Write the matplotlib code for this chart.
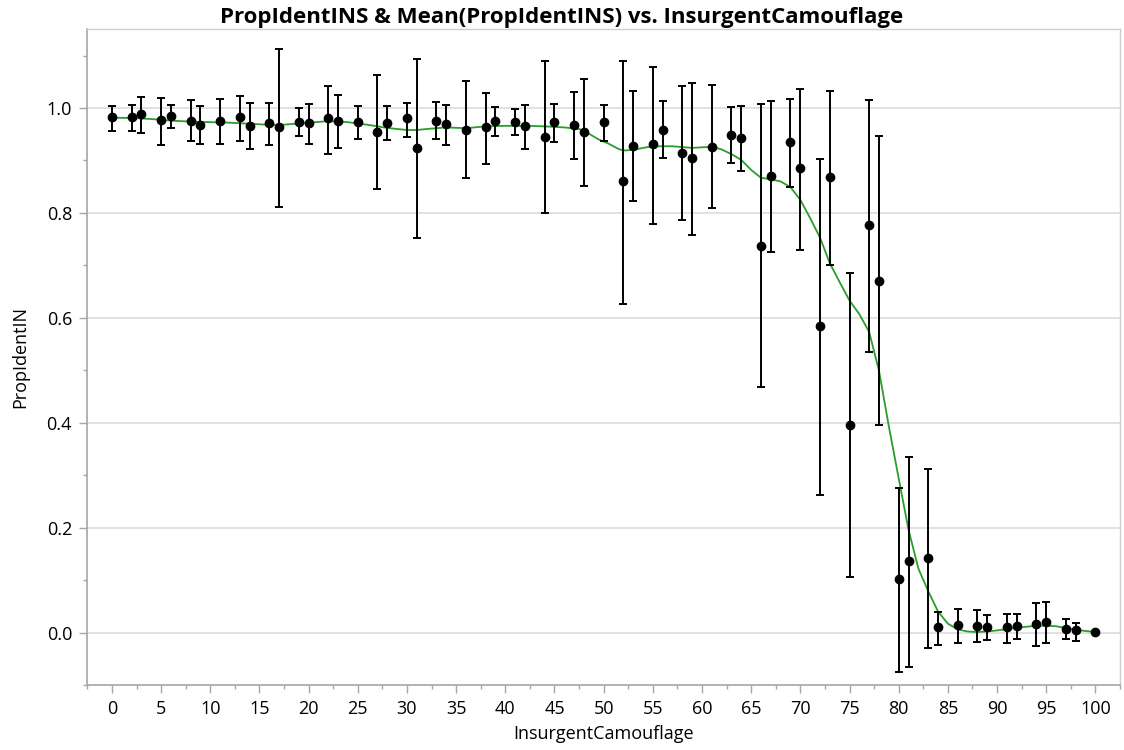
import numpy as np
import matplotlib.pyplot as plt
from matplotlib.ticker import MultipleLocator

plt.rcParams['font.family'] = ['Open Sans', 'DejaVu Sans']

# Insurgent camouflage levels with their mean PropIdentIN and interval ends
camo = [0, 2, 3, 5, 6, 8, 9, 11, 13, 14, 16, 17, 19, 20, 22, 23, 25, 27, 28, 30,
        31, 33, 34, 36, 38, 39, 41, 42, 44, 45, 47, 48, 50, 52, 53, 55, 56, 58, 59, 61,
        63, 64, 66, 67, 69, 70, 72, 73, 75, 77, 78, 80, 81, 83, 84, 86, 88, 89, 91, 92,
        94, 95, 97, 98, 100]
prop_mean = [0.982, 0.982, 0.988, 0.977, 0.985, 0.976, 0.968, 0.976, 0.982, 0.966,
             0.971, 0.963, 0.974, 0.971, 0.980, 0.976, 0.974, 0.955, 0.971, 0.980,
             0.924, 0.976, 0.970, 0.959, 0.963, 0.976, 0.973, 0.965, 0.945, 0.973,
             0.968, 0.954, 0.973, 0.860, 0.928, 0.931, 0.959, 0.915, 0.904, 0.926,
             0.949, 0.943, 0.737, 0.870, 0.935, 0.885, 0.585, 0.868, 0.396, 0.777,
             0.671, 0.102, 0.137, 0.143, 0.010, 0.015, 0.012, 0.010, 0.010, 0.013,
             0.016, 0.021, 0.007, 0.004, 0.001]
prop_lo = [0.957, 0.957, 0.953, 0.929, 0.961, 0.938, 0.931, 0.931, 0.938, 0.922,
           0.930, 0.811, 0.947, 0.931, 0.913, 0.924, 0.941, 0.846, 0.939, 0.945,
           0.752, 0.941, 0.930, 0.866, 0.893, 0.947, 0.948, 0.921, 0.799, 0.936,
           0.903, 0.852, 0.938, 0.626, 0.822, 0.779, 0.905, 0.786, 0.758, 0.809,
           0.896, 0.879, 0.469, 0.725, 0.849, 0.730, 0.263, 0.701, 0.105, 0.535,
           0.395, -0.076, -0.065, -0.030, -0.023, -0.020, -0.018, -0.015, -0.020, -0.013,
           -0.026, -0.020, -0.013, -0.016, np.nan]
prop_hi = [1.004, 1.006, 1.021, 1.020, 1.006, 1.015, 1.003, 1.018, 1.022, 1.009,
           1.009, 1.113, 1.000, 1.008, 1.041, 1.025, 1.004, 1.062, 1.003, 1.010,
           1.094, 1.011, 1.006, 1.051, 1.029, 1.001, 0.998, 1.006, 1.089, 1.007,
           1.030, 1.055, 1.006, 1.089, 1.032, 1.079, 1.013, 1.042, 1.048, 1.043,
           1.001, 1.004, 1.007, 1.014, 1.017, 1.036, 0.903, 1.032, 0.686, 1.015,
           0.947, 0.276, 0.335, 0.312, 0.040, 0.045, 0.042, 0.033, 0.036, 0.036,
           0.056, 0.058, 0.026, 0.018, np.nan]

# Smoothed mean curve
fit_x = [0, 2, 4, 6, 8, 10, 12, 14, 16, 17, 18, 20, 22, 24, 26, 28, 30, 31, 32, 34,
         36, 38, 40, 42, 44, 46, 47.5, 48.5, 49.5, 50.5, 51.5, 52, 53, 54, 55, 57, 59, 60, 61, 62,
         63, 64, 65, 66, 67, 68, 69, 70, 71, 72, 73, 74, 75, 76, 77, 78, 79, 80, 81, 82,
         83, 84, 85, 86, 87, 88, 89, 90, 92, 94, 95, 96, 98, 100]
fit_y = [0.9815, 0.981, 0.979, 0.976, 0.974, 0.973, 0.972, 0.970, 0.968, 0.9675, 0.969, 0.972, 0.975, 0.973, 0.968, 0.962, 0.958, 0.958, 0.960, 0.963,
         0.9615, 0.965, 0.966, 0.966, 0.965, 0.963, 0.960, 0.951, 0.940, 0.932, 0.922, 0.919, 0.920, 0.924, 0.927, 0.927, 0.924, 0.925, 0.926, 0.921,
         0.912, 0.901, 0.882, 0.867, 0.864, 0.860, 0.849, 0.825, 0.790, 0.753, 0.704, 0.668, 0.633, 0.607, 0.573, 0.499, 0.393, 0.294, 0.196, 0.122,
         0.079, 0.040, 0.017, 0.006, 0.002, 0.001, 0.002, 0.004, 0.009, 0.013, 0.013, 0.012, 0.005, 0.001]

mean = np.array(prop_mean)
yerr = [mean - np.array(prop_lo), np.array(prop_hi) - mean]

fig = plt.figure(figsize=(11.24, 7.5), dpi=100)
ax = fig.add_axes([0.0777, 0.0867, 0.9187, 0.8742])

ax.plot(fit_x, fit_y, color='#2a9d2a', lw=1.3, zorder=2)
ax.errorbar(camo, mean, yerr=yerr, fmt='o', color='black', ms=6,
            elinewidth=1.4, capsize=2.6, capthick=1.4, zorder=3)

ax.set_xlim(-2.5, 102.5)
ax.set_ylim(-0.1, 1.15)
ax.xaxis.set_major_locator(MultipleLocator(5))
ax.xaxis.set_minor_locator(MultipleLocator(2.5))
ax.yaxis.set_major_locator(MultipleLocator(0.2))
ax.yaxis.set_minor_locator(MultipleLocator(0.1))
ax.yaxis.set_major_formatter(plt.FormatStrFormatter('%.1f'))

ax.grid(axis='y', which='major', color='#d9d9d9', lw=1.1, zorder=0)
ax.set_axisbelow(True)

for side in ['left', 'bottom']:
    ax.spines[side].set_color('#a6a6a6')
    ax.spines[side].set_linewidth(1.2)
for side in ['top', 'right']:
    ax.spines[side].set_color('#cfcfcf')
    ax.spines[side].set_linewidth(1.0)

ax.tick_params(which='major', length=6, width=1, color='#a6a6a6', labelsize=13, pad=5)
ax.tick_params(which='minor', length=3, width=1, color='#a6a6a6')

fig.text(0.5, 1 - 23 / 750, 'PropIdentINS & Mean(PropIdentINS) vs. InsurgentCamouflage',
         ha='center', va='baseline', fontsize=16, fontweight='bold')
fig.text(0.537, 1 - 739 / 750, 'InsurgentCamouflage', ha='center', va='baseline', fontsize=13)
fig.text(20 / 1124, 0.524, 'PropIdentIN', ha='center', va='center', rotation=90, fontsize=13)

fig.savefig('out.png', dpi=100)
